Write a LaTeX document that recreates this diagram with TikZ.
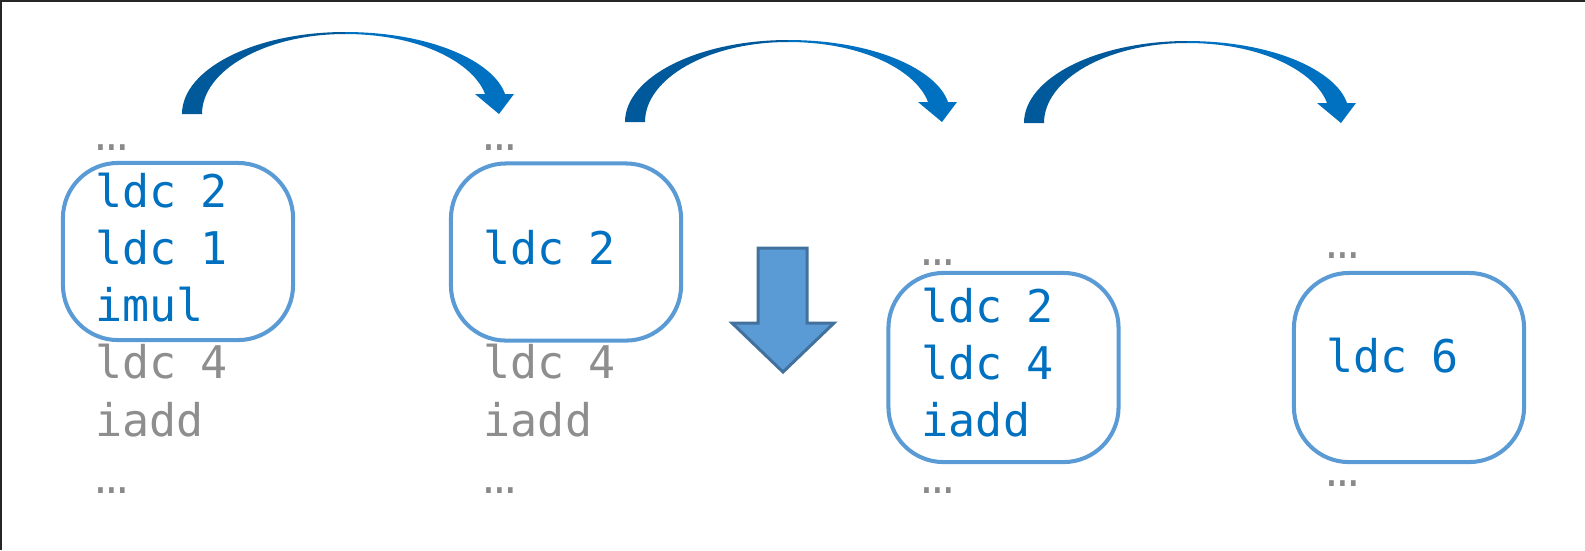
\documentclass[tikz,border=0pt]{standalone}
\usepackage{fontspec}
\newfontfamily\codefont{DejaVu Sans Mono}
\newfontfamily\dotfont{Liberation Mono}
\DeclareRobustCommand\codetext{\codefont\fontsize{12.8pt}{15pt}\selectfont}
\DeclareRobustCommand\dottext{\dotfont\fontsize{15.5pt}{15pt}\selectfont}
\newcommand\ws{\hspace{0.52em}}
\definecolor{codeblue}{HTML}{0070C0}
\definecolor{codegray}{HTML}{8E8E8E}
\definecolor{dotgray}{HTML}{8A8A8A}
\definecolor{boxblue}{HTML}{5B9BD5}
\definecolor{jumpdark}{HTML}{00599B}
\definecolor{jumplight}{HTML}{0070C0}
\definecolor{downedge}{HTML}{41719C}
\tikzstyle{code}=[font=\codetext,
                  inner sep=0pt,
                  text width=2.2cm,
                  align=left,
                  text height=0.34cm,
                  text depth=0.1cm,
                  anchor=west]
\tikzstyle{live}=[code, text=codeblue]
\tikzstyle{dead}=[code, text=codegray]
\tikzstyle{more}=[code, text=dotgray, font=\dottext]
\tikzstyle{group}=[draw=boxblue,
                   line width=1.15pt,
                   rounded corners=0.55cm,
                   minimum width=2.3cm]
\tikzstyle{frame}=[draw=black!85, line width=0.6pt]

\begin{document}
\begin{tikzpicture}[x=0.01cm, y=-0.01cm, node distance=0.572cm]
    \useasboundingbox (0,0) rectangle (1585,550);
    \draw[frame] (1,550) -- (1,1) -- (1585,1);

    % folded groups
    \node[group, minimum height=1.77cm] (box1) at (178,251.5) {};
    \node[group, minimum height=1.77cm] (box2) at (566,252) {};
    \node[group, minimum height=1.89cm] (box3) at (1003.5,367.5) {};
    \node[group, minimum height=1.89cm] (box4) at (1409,367.5) {};

    % first column
    \node[more] (top1) at (95,138) {…};
    \node[live, below of=top1] (ldca1) {ldc\ws 2};
    \node[live, below of=ldca1] (ldcb1) {ldc\ws 1};
    \node[live, below of=ldcb1] (imul1) {imul};
    \node[dead, below of=imul1] (ldcc1) {ldc\ws 4};
    \node[dead, below of=ldcc1] (iadd1) {iadd};
    \node[more, below of=iadd1] (end1) {…};

    % second column
    \node[more] (top2) at (483,138) {…};
    \node[live, below of=top2, node distance=1.144cm] (ldca2) {ldc\ws 2};
    \node[dead, below of=ldca2, node distance=1.144cm] (ldcc2) {ldc\ws 4};
    \node[dead, below of=ldcc2] (iadd2) {iadd};
    \node[more, below of=iadd2] (end2) {…};

    % third column
    \node[more] (top3) at (921,253) {…};
    \node[live, below of=top3] (ldca3) {ldc\ws 2};
    \node[live, below of=ldca3] (ldcc3) {ldc\ws 4};
    \node[live, below of=ldcc3] (iadd3) {iadd};
    \node[more, below of=iadd3] (end3) {…};

    % fourth column
    \node[more] (top4) at (1326,246) {…};
    \node[live, below of=top4, node distance=1.144cm] (ldcd4) {ldc\ws 6};
    \node[more, below of=ldcd4, node distance=1.144cm] (end4) {…};

    % fold step
    \draw[fill=boxblue, draw=downedge, line width=0.85pt]
        (758,248) -- (807,248) -- (807,323) -- (834,323) -- (783,372)
        -- (732,323) -- (758,323) -- cycle;

    % jumps between steps
    \foreach \tx/\ty in {182/114, 625/122, 1024/123} {
      \begin{scope}[shift={(\tx,\ty)}]
        \fill[jumpdark] (0,0) .. controls (0,-45) and (73,-82) .. (163,-82)
            -- (163,-80) .. controls (84,-80) and (20,-44) .. (20,0) -- cycle;
        \fill[jumplight] (163,-82) .. controls (250,-82) and (312,-52) .. (323,-20)
            -- (332,-20) -- (317,0) -- (293,-20) -- (303,-20)
            .. controls (292,-50) and (240,-80) .. (163,-80) -- cycle;
      \end{scope}
    }
\end{tikzpicture}
\end{document}
